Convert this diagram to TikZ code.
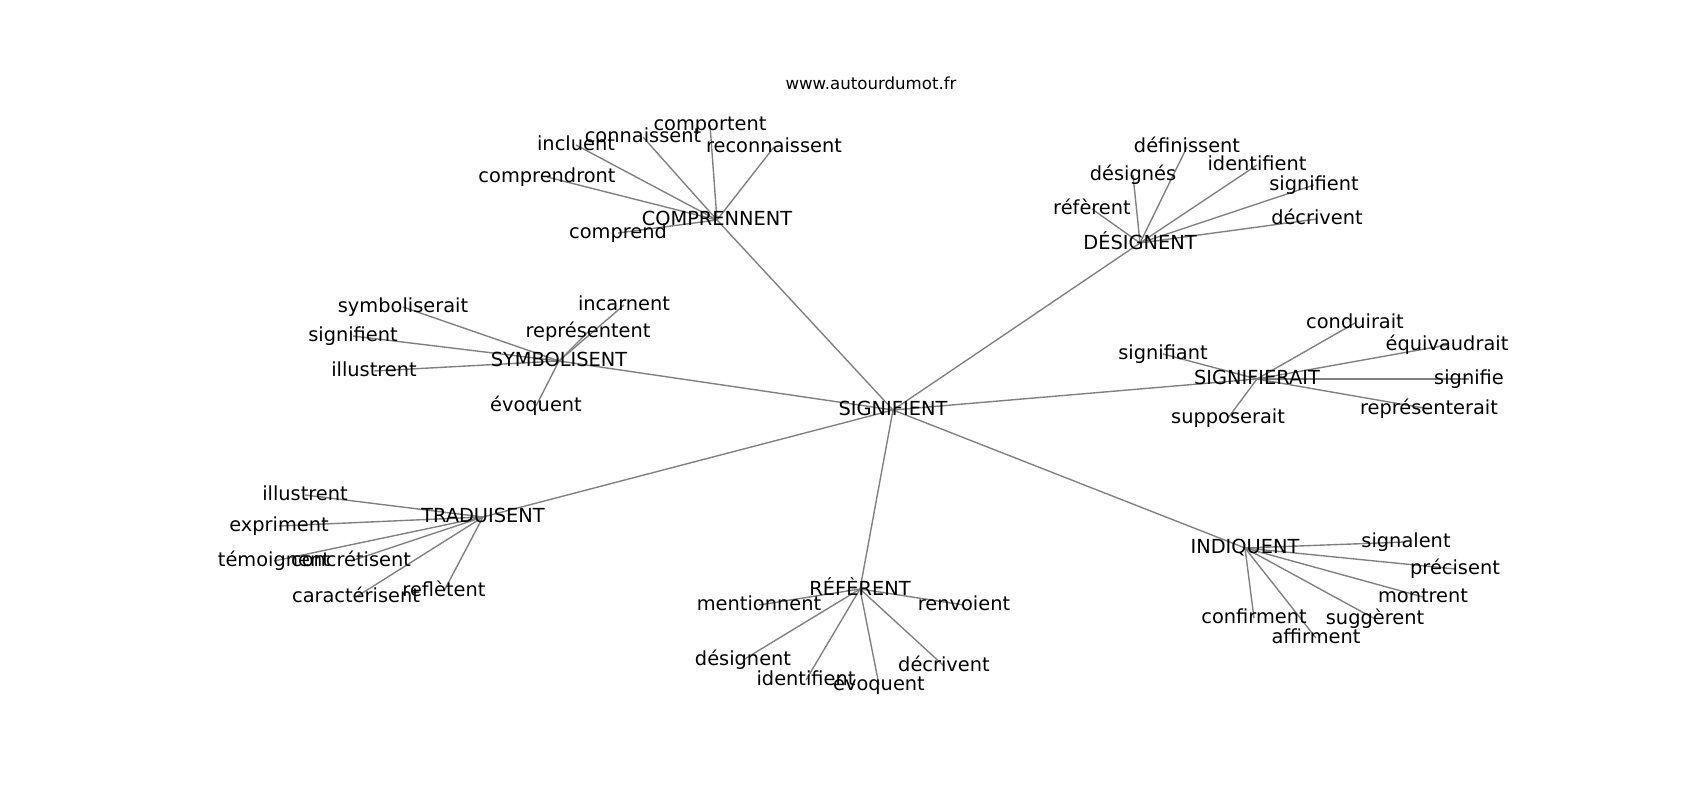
\documentclass[tikz,border=0pt]{standalone}
\usepackage{fontspec}
\setmainfont{DejaVu Sans}
\usetikzlibrary{backgrounds}
\begin{document}
\begin{tikzpicture}[x=0.01in,y=-0.01in,
    lbl/.style={inner sep=0pt,font=\fontsize{14}{16}\selectfont,execute at begin node={\vphantom{lp}}},
    edge/.style={draw=gray,line width=1pt}]
    \useasboundingbox (0,0) rectangle (1700,800);
    \node[inner sep=0pt,font=\fontsize{12}{14}\selectfont](t) at (871,83) {www.autourdumot.fr};
    % hubs
    \node[lbl](s) at (893,410) {SIGNIFIENT};
    \node[lbl](c) at (717,220) {COMPRENNENT};
    \node[lbl](d) at (1140,243) {DÉSIGNENT};
    \node[lbl](y) at (559,361) {SYMBOLISENT};
    \node[lbl](g) at (1257,379) {SIGNIFIERAIT};
    \node[lbl](r) at (483,517) {TRADUISENT};
    \node[lbl](f) at (860,589) {RÉFÈRENT};
    \node[lbl](i) at (1245,548) {INDIQUENT};
    % leaves of COMPRENNENT
    \node[lbl](c1) at (547,177) {comprendront};
    \node[lbl](c2) at (576,145) {incluent};
    \node[lbl](c3) at (643,137) {connaissent};
    \node[lbl](c4) at (710,125) {comportent};
    \node[lbl](c5) at (774,147) {reconnaissent};
    \node[lbl](c6) at (618,233) {comprend};
    % leaves of DÉSIGNENT
    \node[lbl](d1) at (1187,147) {définissent};
    \node[lbl](d2) at (1133,175) {désignés};
    \node[lbl](d3) at (1092,209) {réfèrent};
    \node[lbl](d4) at (1257,165) {identifient};
    \node[lbl](d5) at (1314,185) {signifient};
    \node[lbl](d6) at (1317,219) {décrivent};
    % leaves of SYMBOLISENT
    \node[lbl](y1) at (403,307) {symboliserait};
    \node[lbl](y2) at (353,336) {signifient};
    \node[lbl](y3) at (374,371) {illustrent};
    \node[lbl](y4) at (624,305) {incarnent};
    \node[lbl](y5) at (588,332) {représentent};
    \node[lbl](y6) at (536,406) {évoquent};
    % leaves of SIGNIFIERAIT
    \node[lbl](g1) at (1163,354) {signifiant};
    \node[lbl](g2) at (1355,323) {conduirait};
    \node[lbl](g3) at (1447,345) {équivaudrait};
    \node[lbl](g4) at (1469,379) {signifie};
    \node[lbl](g5) at (1429,409) {représenterait};
    \node[lbl](g6) at (1228,418) {supposerait};
    % leaves of TRADUISENT
    \node[lbl](r1) at (305,495) {illustrent};
    \node[lbl](r2) at (279,526) {expriment};
    \node[lbl](r3) at (274,561) {témoignent};
    \node[lbl](r4) at (351,561) {concrétisent};
    \node[lbl](r5) at (356,597) {caractérisent};
    \node[lbl](r6) at (444,591) {reflètent};
    % leaves of RÉFÈRENT
    \node[lbl](f1) at (759,605) {mentionnent};
    \node[lbl](f2) at (964,605) {renvoient};
    \node[lbl](f3) at (743,660) {désignent};
    \node[lbl](f4) at (806,680) {identifient};
    \node[lbl](f5) at (879,685) {évoquent};
    \node[lbl](f6) at (944,666) {décrivent};
    % leaves of INDIQUENT
    \node[lbl](i1) at (1406,542) {signalent};
    \node[lbl](i2) at (1455,569) {précisent};
    \node[lbl](i3) at (1423,597) {montrent};
    \node[lbl](i4) at (1375,619) {suggèrent};
    \node[lbl](i5) at (1254,618) {confirment};
    \node[lbl](i6) at (1316,638) {affirment};
    \begin{scope}[on background layer]
    \foreach \h in {c,d,y,g,r,f,i}
        \draw[edge] (s.center)--(\h.center);
    \foreach \h in {c,d,y,g,r,f,i}
        \foreach \n in {1,...,6}
            \draw[edge] (\h.center)--(\h\n.center);
    \end{scope}
\end{tikzpicture}
\end{document}
